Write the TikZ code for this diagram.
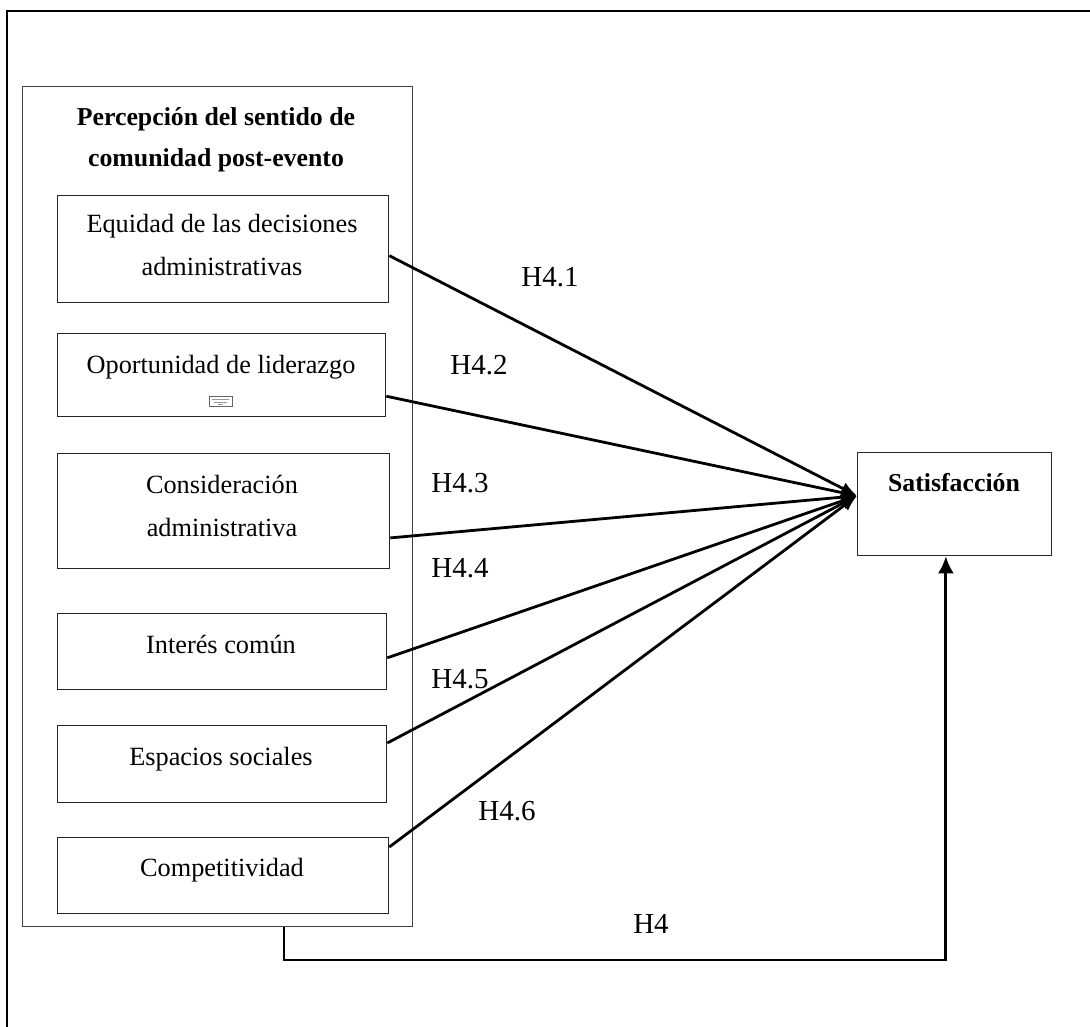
\documentclass[tikz,border=0pt]{standalone}
\usepackage{fontspec}
\setmainfont{Liberation Serif}
\usetikzlibrary{arrows.meta,calc}

\begin{document}
\begin{tikzpicture}[x=1pt,y=-1pt,
  box/.style={draw=black!85, line width=1.3pt, inner sep=0pt, anchor=north west},
  grpbox/.style={draw=black!75, line width=1pt, inner sep=0pt, anchor=north west},
  txt/.style={anchor=base, inner sep=0pt, font=\fontsize{26.3}{31}\selectfont},
  btxt/.style={txt, font=\fontsize{25.8}{31}\selectfont\bfseries},
  hlab/.style={anchor=base, inner sep=0pt, font=\fontsize{29}{34}\selectfont},
  conn/.style={line width=2.8pt, -{Latex[length=16pt,width=13pt]}},
  frame/.style={line width=2.4pt}
]
\useasboundingbox (0,0) rectangle (1090,1027);

% outer frame (top and left edges)
\coordinate (fr1) at (7,1027);
\coordinate (fr2) at (7,11);
\coordinate (fr3) at (1090,11);
\draw[frame] (fr1) -- (fr2) -- (fr3);

% group of dimensions
\node[grpbox, minimum width=390pt, minimum height=840pt] (grp) at (22,86) {};
\node[btxt] (t1) at (216,126) {Percepción del sentido de};
\node[btxt] (t2) at (216,167) {comunidad post-evento};

% dimension boxes
\node[box, minimum width=331pt, minimum height=107pt] (eq) at (57,195) {};
\node[txt] (eqa) at (222,233) {Equidad de las decisiones};
\node[txt] (eqb) at (222,276) {administrativas};

\node[box, minimum width=328pt, minimum height=83pt] (op) at (57,333) {};
\node[txt] (opa) at (221,373) {Oportunidad de liderazgo};
\node[draw=black!60, line width=0.6pt, minimum width=23pt, minimum height=10pt, inner sep=0pt, anchor=north west] (thumb) at (209,396) {};
\draw[black!40, line width=0.5pt] (212,399.5) -- (229,399.5) (214,402) -- (227,402) (218,404.3) -- (223,404.3);

\node[box, minimum width=332pt, minimum height=115pt] (co) at (57,453) {};
\node[txt] (coa) at (222,493) {Consideración};
\node[txt] (cob) at (222,536) {administrativa};

\node[box, minimum width=329pt, minimum height=76pt] (in) at (57,613) {};
\node[txt] (ina) at (221,653) {Interés común};

\node[box, minimum width=329pt, minimum height=77pt] (es) at (57,725) {};
\node[txt] (esa) at (221,765) {Espacios sociales};

\node[box, minimum width=331pt, minimum height=76pt] (cp) at (57,837) {};
\node[txt] (cpa) at (222,876) {Competitividad};

% outcome
\node[box, minimum width=194pt, minimum height=103pt] (sat) at (857,452) {};
\node[btxt] (sata) at (954,491) {Satisfacción};

% connectors
\coordinate (tip) at ($(sat.north west)!0.42!(sat.south west)$);
\draw[conn] ($(eq.north east)!0.56!(eq.south east)$) -- (tip);
\draw[conn] ($(op.north east)!0.75!(op.south east)$) -- (tip);
\draw[conn] ($(co.north east)!0.73!(co.south east)$) -- (tip);
\draw[conn] ($(in.north east)!0.58!(in.south east)$) -- (tip);
\draw[conn] ($(es.north east)!0.23!(es.south east)$) -- (tip);
\draw[conn] ($(cp.north east)!0.13!(cp.south east)$) -- (tip);

\coordinate (h4s) at ($(grp.south west)!0.67!(grp.south east)$);
\coordinate (h4e) at ($(sat.south west)!0.455!(sat.south east)$);
\draw[line width=2.8pt, -{Latex[length=17pt,width=16pt]}] (h4s) -- ++(0,33) -| (h4e);

% hypothesis labels
\node[hlab] (l1) at (550,287) {H4.1};
\node[hlab] (l2) at (479,374) {H4.2};
\node[hlab] (l3) at (460,492) {H4.3};
\node[hlab] (l4) at (460,577) {H4.4};
\node[hlab] (l5) at (460,688) {H4.5};
\node[hlab] (l6) at (507,820) {H4.6};
\node[hlab] (l0) at (651,933) {H4};
\end{tikzpicture}
\end{document}
